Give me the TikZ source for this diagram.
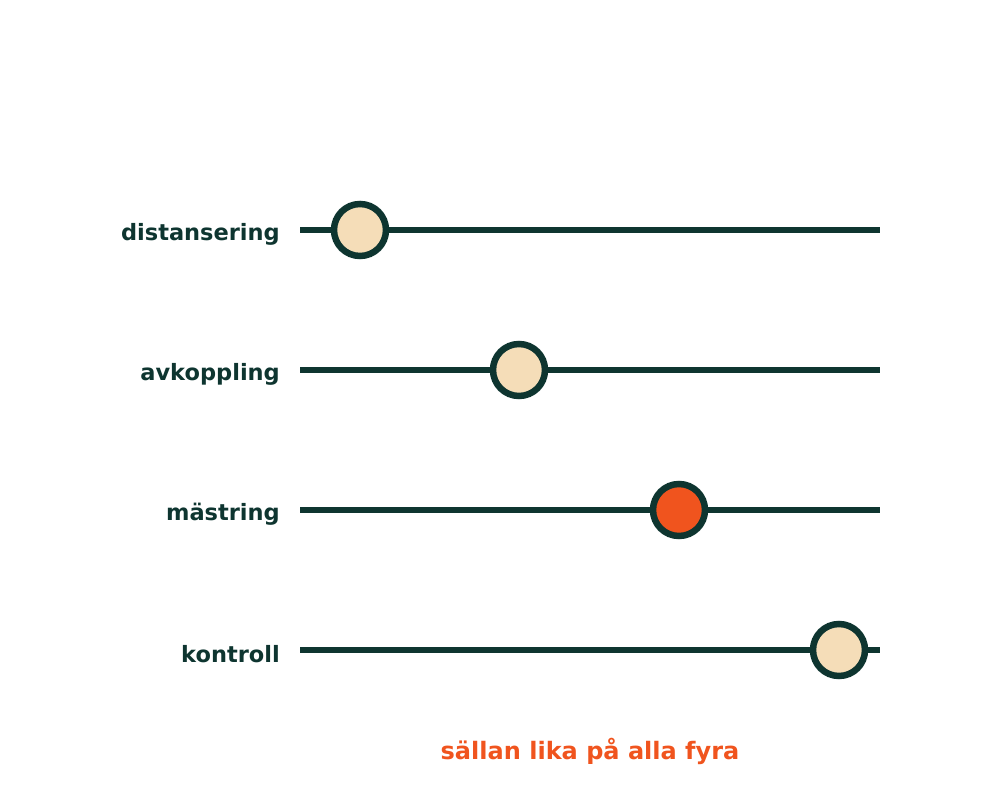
\documentclass[tikz,border=0pt]{standalone}
\usepackage{fontspec}
\setmainfont{DejaVu Sans}
\definecolor{darkg}{HTML}{0E3530}
\definecolor{beige}{HTML}{F5DDB8}
\definecolor{orng}{HTML}{F0541E}
\begin{document}
\begin{tikzpicture}[x=1pt,y=1pt,
  track/.style={draw=darkg,line width=6.5pt},
  knob/.style={circle,draw=darkg,line width=6.5pt,minimum size=52pt,inner sep=0pt,fill=beige},
  knobact/.style={knob,fill=orng},
  lab/.style={anchor=east,font=\bfseries\fontsize{22.5}{25}\selectfont,text=darkg,inner sep=0pt},
  note/.style={font=\bfseries\fontsize{24}{27}\selectfont,text=orng,inner sep=0pt}]
\useasboundingbox (0,0) rectangle (1000,800);
\foreach \n/\y in {a/570,b/430,c/290,d/150}{
  \coordinate (\n s) at (300,\y);
  \coordinate (\n e) at (880,\y);
  \draw[track] (\n s) -- (\n e);
}
\node[knob] (k1) at (360,570) {};
\node[knob] (k2) at (519,430) {};
\node[knobact] (k3) at (679,290) {};
\node[knob] (k4) at (839,150) {};
\node[lab] (l1) at (280,566) {distansering};
\node[lab] (l2) at (280,426) {avkoppling};
\node[lab] (l3) at (280,286) {mästring};
\node[lab] (l4) at (280,146) {kontroll};
\node[note] (n) at (590,49) {sällan lika på alla fyra};
\end{tikzpicture}
\end{document}
